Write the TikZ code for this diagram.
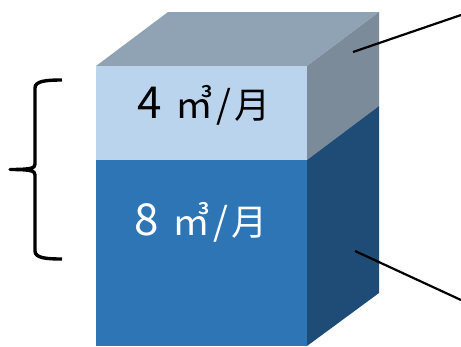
\documentclass[tikz,border=0pt]{standalone}
\usepackage{fontspec}
\newfontfamily\cjk{Noto Sans CJK JP}
\newcommand{\rateText}[1]{{\fontsize{44}{44}\selectfont #1}\hspace{13pt}㎥\hspace{3pt}/\hspace{3pt}{\fontsize{36}{36}\selectfont 月}}
\begin{document}
\begin{tikzpicture}[
    x=1pt, y=-1pt,
    face/.style={draw=none},
    label/.style={font=\cjk\fontsize{38}{38}\selectfont, inner sep=0pt, anchor=base},
    leader/.style={black, line width=2.2pt},
    bracket/.style={black, line width=3.4pt, line join=round}
]
    \useasboundingbox (0,0) rectangle (461,346);
    % faces of the block
    \fill[face, fill={rgb,255:red,143;green,163;blue,181}] (96,66) -- (168,12) -- (379,12) -- (307,66) -- cycle;
    \fill[face, fill={rgb,255:red,186;green,212;blue,238}] (96,66) rectangle (307,160);
    \fill[face, fill={rgb,255:red,46;green,117;blue,182}] (96,160) rectangle (307,346);
    \fill[face, fill={rgb,255:red,124;green,139;blue,154}] (307,66) -- (379,12) -- (379,106) -- (307,160) -- cycle;
    \fill[face, fill={rgb,255:red,30;green,76;blue,118}] (307,160) -- (379,106) -- (379,293) -- (307,346) -- cycle;
    % labels
    \node[label, text=black] (upper) at (204,118) {\rateText{4}};
    \node[label, text=white] (lower) at (201,235) {\rateText{8}};
    % leader lines
    \coordinate (upperEnd) at (353,52);
    \coordinate (upperFree) at (461,15);
    \coordinate (lowerEnd) at (355,251);
    \coordinate (lowerFree) at (461,300);
    \draw[leader] (upperEnd) -- (upperFree);
    \draw[leader] (lowerEnd) -- (lowerFree);
    % brace
    \draw[bracket] (62,80) .. controls (46,80) and (35,81) .. (35,88)
        -- (35,164) .. controls (35,168) and (32,169.5) .. (10,169.5)
        .. controls (32,169.5) and (35,171) .. (35,175)
        -- (35,251) .. controls (35,258) and (46,259) .. (62,259);
\end{tikzpicture}
\end{document}
